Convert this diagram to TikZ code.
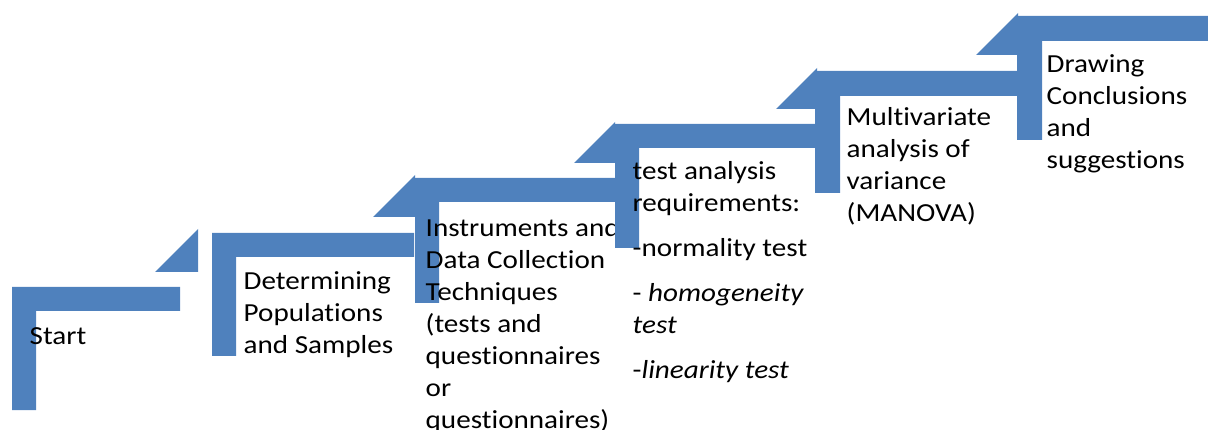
\documentclass[tikz,border=0pt]{standalone}
\usepackage{fontspec}
\setmainfont{Carlito}[FakeStretch=1.12,Ligatures=NoCommon]
\usepackage{tikz}
\definecolor{StepBlue}{HTML}{4F81BD}
\newcommand{\StepUp}[5]%
% left, top, end of bar, foot, thickness
{   \fill[StepBlue] (#1,#2) -- (#3,#2) -- (#3,#2+#5) -- (#1+#5,#2+#5)
		-- (#1+#5,#4) -- (#1,#4) -- cycle;
}
\newcommand{\StepHead}[3]%
% corner x, corner y, size
{   \fill[StepBlue] (#1,#2) -- (#1-#3,#2) -- (#1,#2-#3) -- cycle;
}
\newcommand{\Lead}{\rule{0pt}{24pt}}
\tikzset{steptext/.style={anchor=north west, inner sep=0pt, align=left,
	font=\fontsize{26}{32}\selectfont}}

\begin{document}
\begin{tikzpicture}[x=1pt,y=-1pt]
			\useasboundingbox (0,0) rectangle (1208,430);
			\StepUp{12}{287}{180}{410}{24}
			\StepHead{198}{272}{43}
			\node[steptext] (start) at (29.5,320) {\Lead Start};
			\StepUp{212}{233}{414}{356}{24}
			\StepHead{415}{217}{42}
			\node[steptext] (popul) at (243.5,265) {\Lead Determining\\Populations\\and Samples};
			\StepUp{415}{178}{615}{303}{24}
			\StepHead{615}{163}{41}
			\node[steptext] (instr) at (425.5,212) {\Lead Instruments and\\Data Collection\\Techniques\\(tests and\\questionnaires\\or\\questionnaires)};
			\StepUp{615}{124}{815}{248}{24}
			\StepHead{817}{109}{41}
			\node[steptext] (reqs) at (632.5,155.5) {\Lead test analysis\\requirements:\\[13pt]-normality test\\[13pt]- \textit{homogeneity}\\\textit{test}\\[13pt]-\textit{linearity test}};
			\StepUp{815}{71}{1017}{193}{25}
			\StepHead{1018}{55}{42}
			\node[steptext] (manova) at (846.5,101) {\Lead Multivariate\\analysis of\\variance\\(MANOVA)};
			\StepUp{1017}{16}{1208}{140}{25}
			\node[steptext] (concl) at (1046.5,48) {\Lead Drawing\\Conclusions\\and\\suggestions};
		\end{tikzpicture}
\end{document}
